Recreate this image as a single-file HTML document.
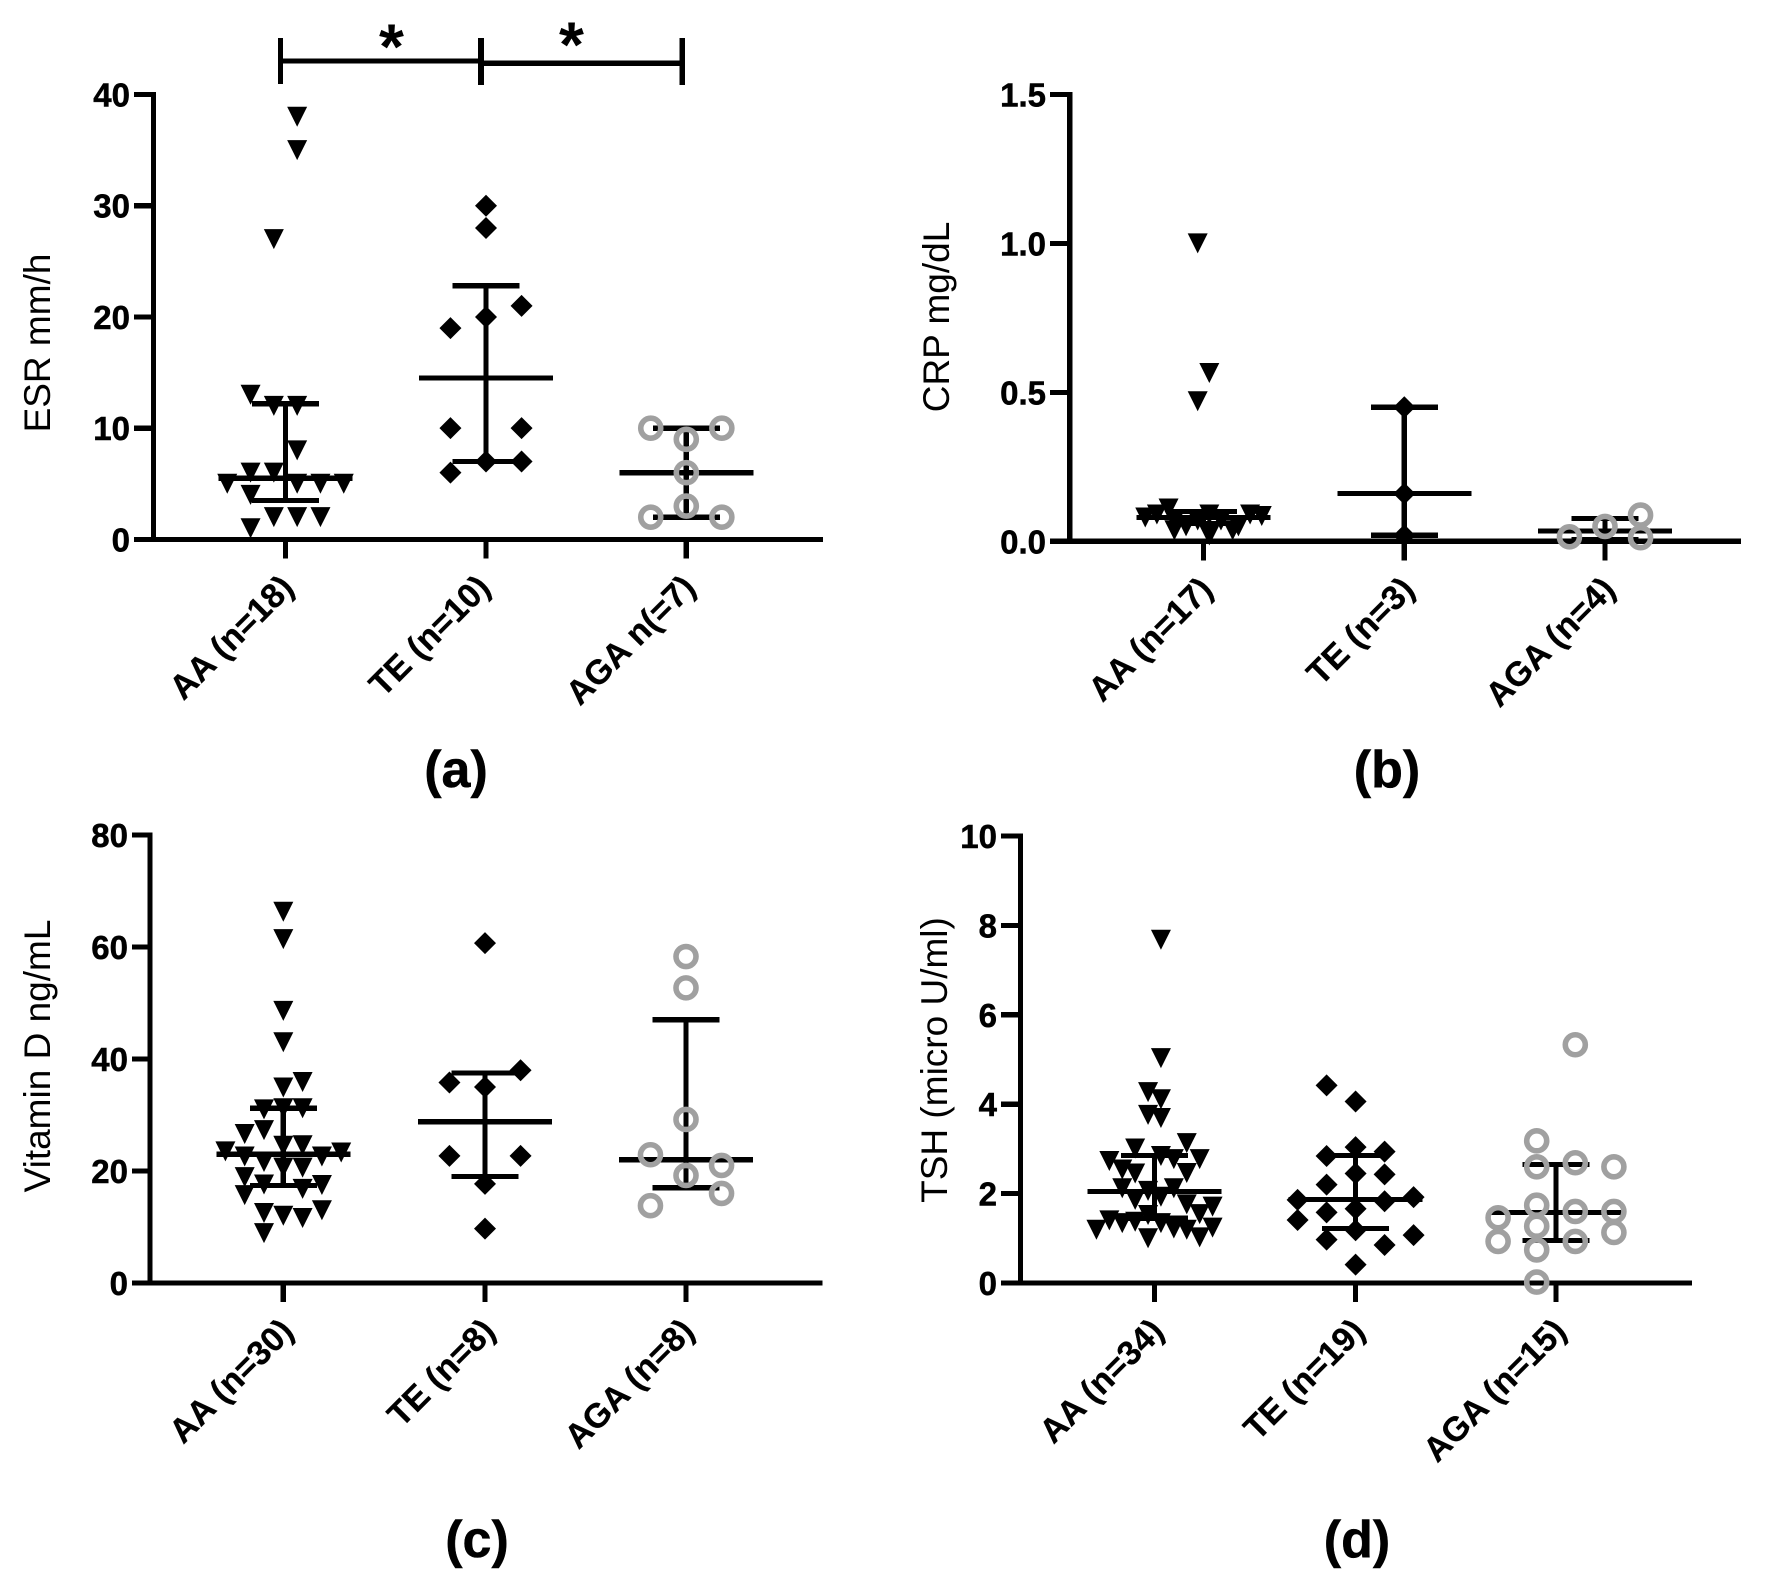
<!DOCTYPE html>
<html lang="en">
<head>
<meta charset="utf-8">
<title>ESR, CRP, Vitamin D and TSH by group</title>
<style>
  html, body { margin: 0; padding: 0; background: #fff; }
  svg { display: block; }
  text { font-family: "Liberation Sans", Arial, sans-serif; fill: #000; }
  .tick { font-weight: bold; font-size: 33px; stroke: #000; stroke-width: 0.5px; }
  .cat { font-weight: bold; font-size: 34px; stroke: #000; stroke-width: 0.3px; }
  .ytitle { font-size: 37px; }
  .plabel { font-weight: bold; font-size: 52px; stroke: #000; stroke-width: 0.5px; }
  .star { font-weight: bold; font-size: 64px; }
</style>
</head>
<body>
<svg id="figure" xmlns="http://www.w3.org/2000/svg" width="1786" height="1593" viewBox="0 0 1786 1593">
  <rect x="0" y="0" width="1786" height="1593" fill="#fff"/>

  <g id="panel-a">
    <text class="ytitle" transform="translate(50,343) rotate(-90)" text-anchor="middle">ESR mm/h</text>
    <text class="plabel" x="456" y="787" text-anchor="middle">(a)</text>
    <g stroke="#000" fill="none" shape-rendering="crispEdges">
      <line x1="280.5" y1="61" x2="481" y2="61" stroke-width="5"/>
      <line x1="481" y1="63" x2="682" y2="63" stroke-width="5.5"/>
      <line x1="280.5" y1="38" x2="280.5" y2="84" stroke-width="5"/>
      <line x1="481" y1="38" x2="481" y2="85" stroke-width="6.4"/>
      <line x1="682" y1="38" x2="682" y2="85" stroke-width="5.5"/>
    </g>
    <text class="star" x="391.5" y="68.5" text-anchor="middle">*</text>
    <text class="star" x="571.5" y="66.5" text-anchor="middle">*</text>
  </g>

  <g id="panel-b">
    <text class="ytitle" transform="translate(949,317) rotate(-90)" text-anchor="middle">CRP mg/dL</text>
    <text class="plabel" x="1387" y="787" text-anchor="middle">(b)</text>
  </g>

  <g id="panel-c">
    <text class="ytitle" transform="translate(50,1056) rotate(-90)" text-anchor="middle">Vitamin D ng/mL</text>
    <text class="plabel" x="477" y="1557" text-anchor="middle">(c)</text>
  </g>

  <g id="panel-d">
    <text class="ytitle" transform="translate(947,1060) rotate(-90)" text-anchor="middle">TSH (micro U/ml)</text>
    <text class="plabel" x="1357" y="1557" text-anchor="middle">(d)</text>
  </g>
</svg>

<script>
// ---------- Panel (a) ESR ----------
const esrCategories = ["AA (n=18)", "TE (n=10)", "AGA n(=7)"];
const esrTicks = [0, 10, 20, 30, 40];
const esrTickLabels = ["0", "10", "20", "30", "40"];
const esrAA = [38, 35, 27, 13, 12, 12, 8, 6, 6, 5, 5, 5, 5, 4, 2, 2, 2, 1];
const esrAAColumns = [0.5, 0.5, -0.5, -1.5, -0.5, 0.5, 0.5, -1.5, -0.5, -2.5, 0.5, 1.5, 2.5, -1.5, -0.5, 0.5, 1.5, -1.5];
const esrTE = [30, 28, 21, 20, 19, 10, 10, 7, 7, 6];
const esrTEColumns = [0, 0, 1.5, 0, -1.5, -1.5, 1.5, 0, 1.5, -1.5];
const esrAGA = [10, 10, 9, 6, 3, 2, 2];
const esrAGAColumns = [-1.5, 1.5, 0, 0, 0, -1.5, 1.5];
const esrMedians = [5.5, 14.5, 6];
const esrLower = [3.5, 7, 2];
const esrUpper = [12.2, 22.8, 10];

// ---------- Panel (b) CRP ----------
const crpCategories = ["AA (n=17)", "TE (n=3)", "AGA (n=4)"];
const crpTicks = [0, 0.5, 1, 1.5];
const crpTickLabels = ["0.0", "0.5", "1.0", "1.5"];
const crpAA = [1.0, 0.565, 0.47, 0.11, 0.09, 0.08, 0.09, 0.09, 0.085, 0.037, 0.05, 0.02, 0.037, 0.05, 0.07, 0.07, 0.07];
const crpAAColumns = [-0.25, 0.25, -0.25, -1.5, 0.25, -2.5, -2, 2, 2.5, -1.25, -0.75, 0.25, 1.25, 1.5, -0.25, 0.75, -1.25];
const crpTE = [0.45, 0.16, 0.02];
const crpTEColumns = [0, 0, 0];
const crpAGA = [0.088, 0.05, 0.015, 0.012];
const crpAGAColumns = [1.5, 0, -1.5, 1.5];
const crpMedians = [0.08, 0.16, 0.035];
const crpLower = [0.06, 0.02, 0.005];
const crpUpper = [0.1, 0.45, 0.077];

// ---------- Panel (c) Vitamin D ----------
const vitdCategories = ["AA (n=30)", "TE (n=8)", "AGA (n=8)"];
const vitdTicks = [0, 20, 40, 60, 80];
const vitdTickLabels = ["0", "20", "40", "60", "80"];
const vitdAA = [66.3, 61.4, 48.6, 43, 34.9, 35.9, 31, 31.2, 31.2, 26.6, 27.3, 23.5, 24.5, 24.6, 23.3, 22.6, 22.6, 21.6, 20.6, 20.6, 18.9, 17.6, 16.8, 17.5, 15.7, 12.5, 12, 11.6, 13, 8.9];
const vitdAAColumns = [0, 0, 0, 0, 0, 1, -1, 0, 1, -2, -1, -3, 0, 1, 3, -2, 2, -1, 0, 1, -2, -1, 1, 2, -2, -1, 0, 1, 2, -1];
const vitdTE = [60.7, 38, 35.8, 35, 22.7, 22.7, 17.7, 9.7];
const vitdTEColumns = [0, 1.5, -1.5, 0, -1.5, 1.5, 0, 0];
const vitdAGA = [58.3, 52.7, 29.2, 22.9, 21, 19.2, 16, 13.8];
const vitdAGAColumns = [0, 0, 0, -1.5, 1.5, 0, 1.5, -1.5];
const vitdMedians = [23, 28.8, 22];
const vitdLower = [17.4, 19, 17];
const vitdUpper = [31.2, 37.5, 47];

// ---------- Panel (d) TSH ----------
const tshCategories = ["AA (n=34)", "TE (n=19)", "AGA (n=15)"];
const tshTicks = [0, 2, 4, 6, 8, 10];
const tshTickLabels = ["0", "2", "4", "6", "8", "10"];
const tshAA = [7.68, 5.03, 4.27, 4.11, 3.76, 3.69, 3.13, 3.01, 2.73, 2.84, 2.77, 2.77, 2.54, 2.45, 2.46, 2.12, 2.06, 2.12, 1.86, 1.93, 1.76, 1.71, 1.54, 1.52, 1.4, 1.34, 1.37, 1.34, 1.19, 1.22, 1.19, 1.24, 1.0, 1.02];
const tshAAColumns = [0.5, 0.5, -0.5, 0.5, -0.5, 0.5, 2.5, -1.5, -3.5, 0.5, 1.5, 3.5, -2.5, -1.5, 2.5, -2.5, -0.5, 1.5, -1.5, 0.5, 2.5, 4.5, 3.5, -0.5, -3.5, -2.5, -1.5, 0.5, -4.5, 1.5, 2.5, 4.5, -0.5, 3.5];
const tshTE = [4.42, 4.06, 3.04, 2.84, 2.94, 2.45, 2.43, 2.2, 1.86, 1.66, 1.83, 1.92, 1.58, 1.41, 1.18, 0.97, 0.85, 1.07, 0.41];
const tshTEColumns = [-1, 0, 0, -1, 1, 0, 1, -1, -2, 0, 1, 2, -1, -2, 0, -1, 1, 2, 0];
const tshAGA = [5.33, 3.18, 2.6, 2.69, 2.6, 1.74, 1.6, 1.6, 1.46, 1.27, 1.13, 0.93, 0.93, 0.74, 0.02];
const tshAGAColumns = [0.5, -0.5, -0.5, 0.5, 1.5, -0.5, 0.5, 1.5, -1.5, -0.5, 1.5, -1.5, 0.5, -0.5, -0.5];
const tshMedians = [2.05, 1.87, 1.58];
const tshLower = [1.45, 1.22, 0.95];
const tshUpper = [2.85, 2.85, 2.65];

// ---------- Drawing helpers ----------
const SVGNS = "http://www.w3.org/2000/svg";
const STROKE = 5.2;

function shape(parent, tag) {
  const el = document.createElementNS(SVGNS, tag);
  parent.appendChild(el);
  return el;
}
function line(parent, x1, y1, x2, y2, w) {
  const el = shape(parent, "line");
  el.setAttribute("x1", x1);
  el.setAttribute("y1", y1);
  el.setAttribute("x2", x2);
  el.setAttribute("y2", y2);
  el.setAttribute("stroke", "#000");
  el.setAttribute("stroke-width", w || STROKE);
  el.setAttribute("shape-rendering", "crispEdges");
  return el;
}
function triangle(parent, cx, cy) {
  const el = shape(parent, "polygon");
  const w = 10;
  const h = 10;
  el.setAttribute("points", (cx - w) + "," + (cy - h) + " " + (cx + w) + "," + (cy - h) + " " + cx + "," + (cy + h));
  el.setAttribute("fill", "#000");
  return el;
}
function diamond(parent, cx, cy) {
  const el = shape(parent, "polygon");
  const r = 11;
  el.setAttribute("points", cx + "," + (cy - r) + " " + (cx + r) + "," + cy + " " + cx + "," + (cy + r) + " " + (cx - r) + "," + cy);
  el.setAttribute("fill", "#000");
  return el;
}
function ring(parent, cx, cy) {
  const el = shape(parent, "circle");
  el.setAttribute("cx", cx);
  el.setAttribute("cy", cy);
  el.setAttribute("r", 10);
  el.setAttribute("fill", "none");
  el.setAttribute("stroke", "#a0a0a0");
  el.setAttribute("stroke-width", 5.6);
  return el;
}

function drawPanel(panelId, layout, ticks, tickLabels, categories, groups, medians, lower, upper) {
  const root = document.getElementById(panelId);
  const yScale = function (v) {
    return layout.y0 - (v / layout.yMax) * (layout.y0 - layout.yTop);
  };

  // axes
  const yAxis = line(root, layout.axisX, layout.yTop - STROKE / 2, layout.axisX, layout.y0 + STROKE / 2);
  
  
  const xAxis = line(root, layout.xLeft, layout.y0, layout.xRight, layout.y0);
  
  

  ticks.forEach(function (t, i) {
    const y = yScale(t);
    if (t !== 0) {
      const mark = line(root, layout.xLeft, y, layout.axisX, y);
      
      
    }
    const label = shape(root, "text");
    label.setAttribute("class", "tick");
    label.setAttribute("x", layout.xLeft - 4);
    label.setAttribute("y", y + 12);
    label.setAttribute("text-anchor", "end");
    label.textContent = tickLabels[i];
    
    
  });

  categories.forEach(function (c, i) {
    const x = layout.ticksX[i];
    const mark = line(root, x, layout.y0, x, layout.y0 + 19);
    
    
    const label = shape(root, "text");
    label.setAttribute("class", "cat");
    label.setAttribute("text-anchor", "end");
    label.setAttribute("transform", "translate(" + (x + layout.labelShift[i]) + "," + (layout.y0 + layout.labelDrop) + ") rotate(-45)");
    label.textContent = c;
    
    
  });

  // summary lines
  categories.forEach(function (c, i) {
    const x = layout.ticksX[i];
    const stem = line(root, x, yScale(upper[i]), x, yScale(lower[i]));
    
    
    const up = line(root, x - 33.5, yScale(upper[i]), x + 33.5, yScale(upper[i]));
    
    
    const low = line(root, x - 33.5, yScale(lower[i]), x + 33.5, yScale(lower[i]));
    
    
    const med = line(root, x - 67, yScale(medians[i]), x + 67, yScale(medians[i]));
    
    
  });

  // points
  groups[0].values.forEach(function (v, j) {
    const p = triangle(root, layout.ticksX[0] + groups[0].columns[j] * layout.steps[0], yScale(v));
    
    
  });
  groups[1].values.forEach(function (v, j) {
    const p = diamond(root, layout.ticksX[1] + groups[1].columns[j] * layout.steps[1], yScale(v));
    
    
  });
  groups[2].values.forEach(function (v, j) {
    const p = ring(root, layout.ticksX[2] + groups[2].columns[j] * layout.steps[2], yScale(v));
    
    
  });
}

drawPanel("panel-a",
  { axisX: 153.5, xLeft: 134, xRight: 823, y0: 539.4, yTop: 94.5, yMax: 40,
    ticksX: [285.5, 486, 686.3], labelShift: [10, 6, 11], labelDrop: 50, steps: [23.3, 23.7, 23.7] },
  esrTicks, esrTickLabels, esrCategories,
  [{ values: esrAA, columns: esrAAColumns }, { values: esrTE, columns: esrTEColumns }, { values: esrAGA, columns: esrAGAColumns }],
  esrMedians, esrLower, esrUpper);

drawPanel("panel-b",
  { axisX: 1069.7, xLeft: 1050, xRight: 1741, y0: 541.3, yTop: 94.5, yMax: 1.5,
    ticksX: [1203.5, 1404.3, 1605], labelShift: [11, 12, 12], labelDrop: 50, steps: [23.3, 23.7, 23.7] },
  crpTicks, crpTickLabels, crpCategories,
  [{ values: crpAA, columns: crpAAColumns }, { values: crpTE, columns: crpTEColumns }, { values: crpAGA, columns: crpAGAColumns }],
  crpMedians, crpLower, crpUpper);

drawPanel("panel-c",
  { axisX: 150, xLeft: 132, xRight: 822.5, y0: 1283, yTop: 835, yMax: 80,
    ticksX: [283.3, 485, 686], labelShift: [12, 12, 10], labelDrop: 50, steps: [19.3, 23.7, 23.7] },
  vitdTicks, vitdTickLabels, vitdCategories,
  [{ values: vitdAA, columns: vitdAAColumns }, { values: vitdTE, columns: vitdTEColumns }, { values: vitdAGA, columns: vitdAGAColumns }],
  vitdMedians, vitdLower, vitdUpper);

drawPanel("panel-d",
  { axisX: 1020.5, xLeft: 1001, xRight: 1692, y0: 1283, yTop: 836, yMax: 10,
    ticksX: [1154.5, 1355.6, 1556], labelShift: [11, 11, 12], labelDrop: 50, steps: [12.9, 29, 38.6] },
  tshTicks, tshTickLabels, tshCategories,
  [{ values: tshAA, columns: tshAAColumns }, { values: tshTE, columns: tshTEColumns }, { values: tshAGA, columns: tshAGAColumns }],
  tshMedians, tshLower, tshUpper);
</script>
</body>
</html>
